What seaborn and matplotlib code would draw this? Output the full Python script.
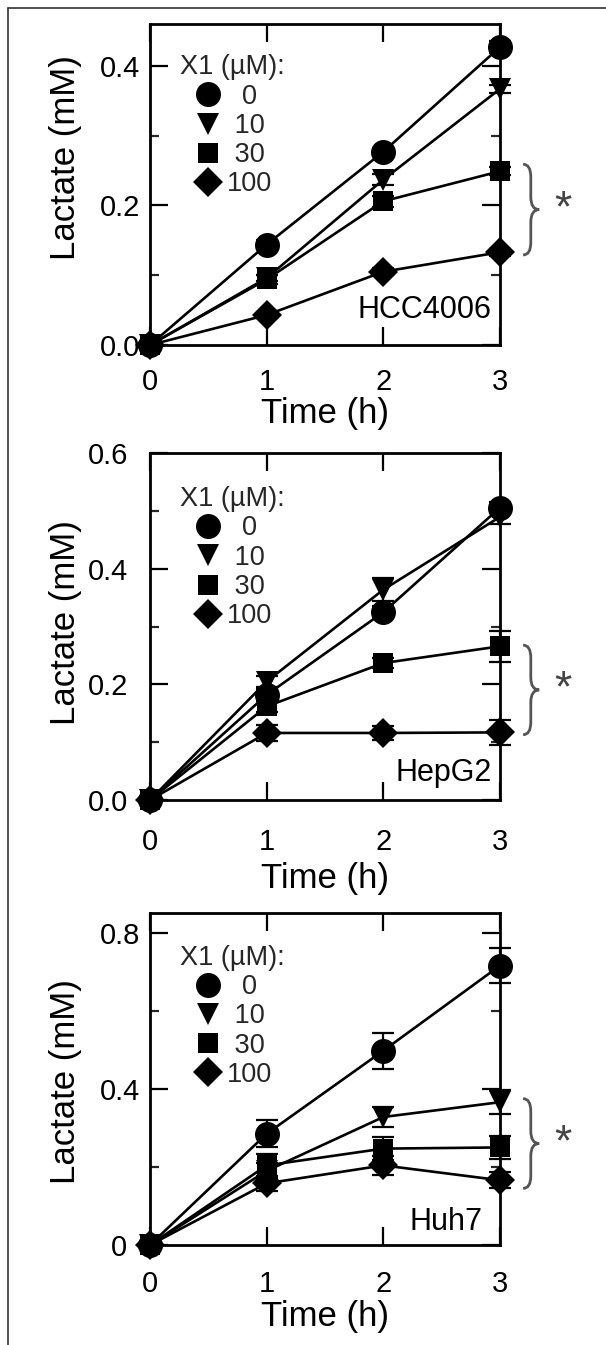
import pandas as pd
import matplotlib
matplotlib.use("Agg")
import matplotlib.pyplot as plt
import seaborn as sns
from matplotlib.lines import Line2D
from matplotlib.path import Path
from matplotlib.patches import PathPatch
from matplotlib.ticker import FixedLocator, NullLocator
import matplotlib.transforms as mtransforms

# ---------------- data ----------------
times = [0, 1, 2, 3]
doses = ["0", "10", "30", "100"]
legend_labels = ["  0", " 10", " 30", "100"]
markers = ["o", "v", "s", "D"]
marker_sizes = [18, 16.5, 15, 15]

hcc_mean = {
    "0":   [0, 0.144, 0.277, 0.427],
    "10":  [0, 0.096, 0.237, 0.367],
    "30":  [0, 0.094, 0.206, 0.249],
    "100": [0, 0.043, 0.105, 0.133],
}
hcc_sd = {
    "0":   [0, 0.006, 0.006, 0.008],
    "10":  [0, 0.005, 0.008, 0.006],
    "30":  [0, 0.006, 0.008, 0.006],
    "100": [0, 0.004, 0.005, 0.005],
}

hep_mean = {
    "0":   [0, 0.182, 0.325, 0.506],
    "10":  [0, 0.205, 0.364, 0.490],
    "30":  [0, 0.162, 0.237, 0.266],
    "100": [0, 0.116, 0.116, 0.117],
}
hep_sd = {
    "0":   [0, 0.010, 0.010, 0.010],
    "10":  [0, 0.010, 0.020, 0.012],
    "30":  [0, 0.010, 0.008, 0.027],
    "100": [0, 0.014, 0.012, 0.022],
}

huh_mean = {
    "0":   [0, 0.285, 0.498, 0.716],
    "10":  [0, 0.190, 0.328, 0.366],
    "30":  [0, 0.204, 0.247, 0.250],
    "100": [0, 0.158, 0.204, 0.166],
}
huh_sd = {
    "0":   [0, 0.035, 0.046, 0.045],
    "10":  [0, 0.020, 0.025, 0.030],
    "30":  [0, 0.030, 0.030, 0.030],
    "100": [0, 0.020, 0.025, 0.020],
}

cell_lines = ["HCC4006", "HepG2", "Huh7"]
ylims = [0.46, 0.60, 0.85]
major_ticks = [[0, 0.2, 0.4], [0, 0.2, 0.4, 0.6], [0, 0.4, 0.8]]
major_labels = [["0.0", "0.2", "0.4"], ["0.0", "0.2", "0.4", "0.6"], ["0", "0.4", "0.8"]]
minor_ticks = [[0.1, 0.3], [0.1, 0.3, 0.5], [0.2, 0.6]]
brace_ranges = [(0.259, 0.129), (0.268, 0.113), (0.375, 0.145)]

# ---------------- layout / style ----------------
W, H = 606, 1345
sns.set_theme(style="ticks")
plt.rcParams["font.family"] = ["Liberation Sans", "DejaVu Sans"]

fig = plt.figure(figsize=(W / 100, H / 100), dpi=100)
fig.patch.set_facecolor("white")

# axes boxes in pixels: left, top, right, bottom
boxes = [(150, 24, 500, 345), (150, 453.3, 500, 800), (150, 913.3, 500, 1245)]
xtick_pad = [16.5, 20, 18]
ytick_pad = [7, 16, 7]
xlabel_off = [52, 62, 55]
ylabel_y = [0.585, 0.512, 0.493]
label_pos = [(0.977, 0.109), (0.977, 0.078), (0.949, 0.069)]
panels = [(hcc_mean, hcc_sd), (hep_mean, hep_sd), (huh_mean, huh_sd)]

for i, (means, sds) in enumerate(panels):
    l, t, r, b = boxes[i]
    ax = fig.add_axes([l / W, 1 - b / H, (r - l) / W, (b - t) / H])
    ax.set_facecolor("white")

    for d, m, ms in zip(doses, markers, marker_sizes):
        df = pd.DataFrame({"Time": times, "Lactate": means[d]})
        ax.errorbar(times, means[d], yerr=sds[d], fmt="none", ecolor="black",
                    elinewidth=1.6, capsize=8, capthick=1.6, zorder=2.5, clip_on=False)
        sns.lineplot(data=df, x="Time", y="Lactate", ax=ax, color="black",
                     marker=m, markersize=ms, markeredgewidth=0, linewidth=1.9,
                     zorder=3, clip_on=False, legend=False)

    ax.set_xlim(0, 3)
    ax.set_ylim(0, ylims[i])
    ax.set_xticks(times)
    ax.set_xticklabels([str(x) for x in times])
    ax.xaxis.set_minor_locator(NullLocator())
    ax.yaxis.set_major_locator(FixedLocator(major_ticks[i]))
    ax.set_yticklabels(major_labels[i])
    ax.yaxis.set_minor_locator(FixedLocator(minor_ticks[i]))

    ax.tick_params(which="major", direction="in", length=13, width=1.6,
                   top=True, right=True, labelsize=21, color="black", labelcolor="black")
    ax.tick_params(which="minor", direction="in", length=6.5, width=1.6,
                   left=True, right=True, top=False, bottom=False)
    ax.tick_params(axis="x", which="major", pad=xtick_pad[i])
    ax.tick_params(axis="y", which="major", pad=ytick_pad[i])
    for s in ax.spines.values():
        s.set_linewidth(2)
        s.set_color("black")
        s.set_zorder(2)

    # the lone "0" on the Huh7 axis sits a bit further out in the original
    if i == 2:
        lab0 = ax.yaxis.get_major_ticks()[0].label1
        lab0.set_transform(lab0.get_transform() +
                           mtransforms.ScaledTranslation(-0.13, 0, fig.dpi_scale_trans))

    ax.set_xlabel("Time (h)", fontsize=25, color="black")
    ax.set_ylabel("Lactate (mM)", fontsize=25, color="black")
    ax.xaxis.set_label_coords(0.5, -xlabel_off[i] / (b - t))
    ax.yaxis.set_label_coords(-0.194, ylabel_y[i])

    # cell line label
    ax.text(label_pos[i][0], label_pos[i][1], cell_lines[i], transform=ax.transAxes,
            ha="right", va="center", fontsize=22, color="black")

    # legend
    handles = [Line2D([], [], linestyle="none", marker=m, markersize=ms,
                      markeredgewidth=0, color="black")
               for m, ms in zip(markers, marker_sizes)]
    ax.legend(handles, legend_labels, title="X1 (µM):", loc="upper left",
              bbox_to_anchor=(0.0857, 0.905), borderaxespad=0, borderpad=0,
              frameon=False, fontsize=19.5, title_fontsize=19.5,
              handlelength=1.2, handletextpad=0.1, labelspacing=0.12)

    # significance brace
    trans = mtransforms.blended_transform_factory(ax.transAxes, ax.transData)
    yt, yb = brace_ranges[i]
    ym = (yt + yb) / 2
    rr = (yt - yb) * 0.14
    x0, xm, xt = 1.066, 1.088, 1.112
    verts = [(x0, yt), (xm, yt), (xm, yt - rr),
             (xm, ym + rr), (xm, ym), (xt, ym),
             (xm, ym), (xm, ym - rr),
             (xm, yb + rr), (xm, yb), (x0, yb)]
    codes = [Path.MOVETO, Path.CURVE3, Path.CURVE3,
             Path.LINETO, Path.CURVE3, Path.CURVE3,
             Path.CURVE3, Path.CURVE3,
             Path.LINETO, Path.CURVE3, Path.CURVE3]
    ax.add_patch(PathPatch(Path(verts, codes), transform=trans, facecolor="none",
                           edgecolor="#555555", linewidth=2, clip_on=False))
    ax.text(1.18, ym, "*", transform=trans, ha="center", va="center",
            fontsize=32, color="#444444", clip_on=False)

# frame lines (left and top) of the original figure
fig.add_artist(Line2D([8 / W, 8 / W], [0, 1 - 8 / H], transform=fig.transFigure,
                      color="#333333", linewidth=1.2))
fig.add_artist(Line2D([8 / W, 1], [1 - 8 / H, 1 - 8 / H], transform=fig.transFigure,
                      color="#333333", linewidth=1.2))

fig.savefig("out.png", dpi=100, facecolor="white")
